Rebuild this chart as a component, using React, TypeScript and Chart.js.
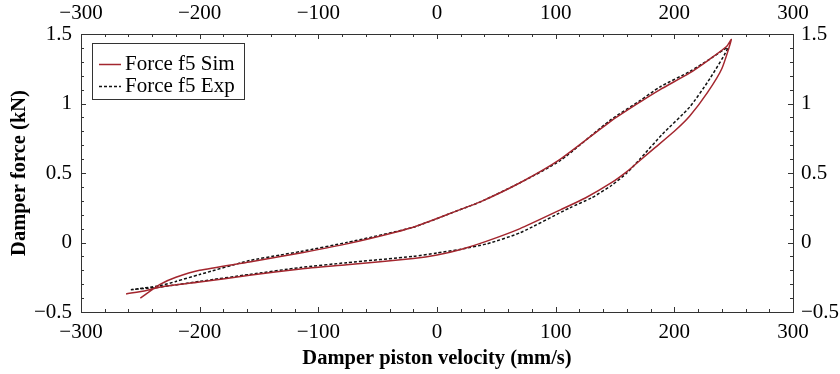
import React, { useEffect, useRef } from "react";
import { Chart, registerables } from "chart.js";

Chart.register(...registerables);

// Simulated loop: lower branch left->right, then upper branch right->left
const simX = [-262, -245, -233, -200, -158, -115, -76, -20, 0, 20, 42, 70, 104, 125, 147, 160, 171, 182, 200, 213, 228, 240, 248,
  244, 230, 213, 188, 171, 146, 104, 70, 36, 19, -20, -76, -115, -132, -158, -200, -220, -233, -250];
const simY = [-0.37, -0.345, -0.32, -0.285, -0.235, -0.19, -0.16, -0.115, -0.09, -0.05, 0.01, 0.1, 0.235, 0.32, 0.43, 0.51, 0.59, 0.67, 0.8, 0.91, 1.08, 1.25, 1.46,
  1.41, 1.32, 1.22, 1.1, 1.01, 0.87, 0.6, 0.43, 0.29, 0.235, 0.11, -0.01, -0.075, -0.1, -0.14, -0.2, -0.25, -0.3, -0.4];

// Experimental loop
const expX = [-258, -245, -233, -200, -158, -115, -76, -20, 0, 19, 42, 70, 112, 130, 147, 160, 171, 190, 213, 230, 245,
  230, 213, 188, 171, 146, 104, 70, 36, 19, -20, -76, -115, -132, -158, -200, -220, -233, -258];
const expY = [-0.34, -0.33, -0.32, -0.28, -0.23, -0.18, -0.145, -0.1, -0.075, -0.05, -0.01, 0.07, 0.25, 0.32, 0.41, 0.5, 0.6, 0.78, 0.975, 1.18, 1.4,
  1.32, 1.23, 1.12, 1.02, 0.88, 0.59, 0.43, 0.29, 0.235, 0.11, 0.0, -0.065, -0.09, -0.13, -0.23, -0.28, -0.31, -0.34];

const seriesLabels = ["Force f5 Sim", "Force f5 Exp"];
const xTicksRange = [-300, 300];
const yTicksRange = [-0.5, 1.5];

const FONT = "'Liberation Serif', 'Times New Roman', serif";
const RED = "#a3262e";
const BLACK = "#111111";

const fmt = (v: number | string) => {
  const n = Number(v);
  const s = String(Math.round(n * 100) / 100);
  return s.replace("-", "\u2212");
};

const tickPlugin = {
  id: "innerTicks",
  afterDraw(chart: any) {
    const ctx = chart.ctx;
    const a = chart.chartArea;
    ctx.save();
    ctx.strokeStyle = "#333";
    ctx.lineWidth = 1;
    const xs = chart.scales.x;
    const ys = chart.scales.y;
    for (let v = xTicksRange[0]; v <= xTicksRange[1] + 1e-6; v += 20) {
      const major = Math.abs(v % 100) < 1e-6;
      const len = major ? 5 : 3;
      const px = Math.round(xs.getPixelForValue(v)) + 0.5;
      ctx.beginPath();
      ctx.moveTo(px, a.bottom);
      ctx.lineTo(px, a.bottom - len);
      ctx.moveTo(px, a.top);
      ctx.lineTo(px, a.top + len);
      ctx.stroke();
    }
    for (let i = 0; i <= 20; i++) {
      const v = yTicksRange[0] + i * 0.1;
      const major = i % 5 === 0;
      const len = major ? 5 : 3;
      const py = Math.round(ys.getPixelForValue(v)) + 0.5;
      ctx.beginPath();
      ctx.moveTo(a.left, py);
      ctx.lineTo(a.left + len, py);
      ctx.moveTo(a.right, py);
      ctx.lineTo(a.right - len, py);
      ctx.stroke();
    }
    // legend box
    const bx = 92.5, by = 43.5, bw = 152, bh = 56;
    ctx.fillStyle = "#fff";
    ctx.fillRect(bx, by, bw, bh);
    ctx.strokeStyle = "#333";
    ctx.strokeRect(bx, by, bw, bh);
    const rows = [64, 86];
    chart.data.datasets.forEach((ds: any, i: number) => {
      const y = rows[i] + 0.5;
      ctx.beginPath();
      ctx.strokeStyle = ds.borderColor;
      ctx.lineWidth = ds.borderWidth;
      ctx.setLineDash(ds.borderDash || []);
      ctx.moveTo(99, y);
      ctx.lineTo(121, y);
      ctx.stroke();
      ctx.setLineDash([]);
      ctx.fillStyle = "#000";
      ctx.font = `21px ${FONT}`;
      ctx.textBaseline = "middle";
      ctx.textAlign = "left";
      ctx.fillText(ds.label, 125, rows[i]);
    });
    ctx.restore();
  },
};

export default function App() {
  const ref = useRef<HTMLCanvasElement>(null);
  useEffect(() => {
    document.body.style.margin = "0";
    const simData = simX.map((x, i) => ({ x, y: simY[i] }));
    const expData = expX.map((x, i) => ({ x, y: expY[i] }));
    const tickFont = { family: FONT, size: 21 };
    const titleFont = { family: FONT, size: 20.5, weight: "bold" as const };
    const border = { display: true, color: "#333", width: 1 };
    const grid = { display: false, drawTicks: false };
    const chart = new Chart(ref.current!, {
      type: "scatter",
      data: {
        datasets: [
          {
            label: seriesLabels[0],
            data: simData,
            showLine: true,
            borderColor: RED,
            backgroundColor: RED,
            borderWidth: 1.5,
            pointRadius: 0,
            tension: 0.2,
          },
          {
            label: seriesLabels[1],
            data: expData,
            showLine: true,
            borderColor: BLACK,
            backgroundColor: BLACK,
            borderWidth: 1.5,
            borderDash: [3, 2],
            pointRadius: 0,
            tension: 0.2,
          },
        ],
      },
      options: {
        animation: false,
        responsive: false,
        layout: { padding: 0 },
        plugins: { legend: { display: false }, tooltip: { enabled: false } },
        scales: {
          x: {
            type: "linear",
            position: "bottom",
            min: xTicksRange[0],
            max: xTicksRange[1],
            grid,
            border,
            ticks: { stepSize: 100, font: tickFont, color: "#000", padding: 8, callback: (v: any) => fmt(v) },
            title: { display: true, text: "Damper piston velocity (mm/s)", font: titleFont, color: "#000", padding: { top: 0, bottom: 3 } },
            afterFit: (s: any) => { s.height = 62; },
          },
          x2: {
            type: "linear",
            position: "top",
            min: xTicksRange[0],
            max: xTicksRange[1],
            grid,
            border,
            ticks: { stepSize: 100, font: tickFont, color: "#000", padding: 8, callback: (v: any) => fmt(v) },
            afterFit: (s: any) => { s.height = 34; },
          },
          y: {
            type: "linear",
            position: "left",
            min: yTicksRange[0],
            max: yTicksRange[1],
            grid,
            border,
            ticks: { stepSize: 0.5, font: tickFont, color: "#000", padding: 9, callback: (v: any) => fmt(v) },
            title: { display: true, text: "Damper force (kN)", font: titleFont, color: "#000", padding: { top: 7, bottom: 0 } },
            afterFit: (s: any) => { s.width = 81; },
          },
          y2: {
            type: "linear",
            position: "right",
            min: yTicksRange[0],
            max: yTicksRange[1],
            grid,
            border,
            ticks: { stepSize: 0.5, font: tickFont, color: "#000", padding: 8, callback: (v: any) => fmt(v) },
            afterFit: (s: any) => { s.width = 47; },
          },
        },
      },
      plugins: [tickPlugin],
    });
    return () => chart.destroy();
  }, []);
  return (
    <div style={{ width: 840, height: 374, background: "#fff" }}>
      <canvas ref={ref} width={840} height={374} />
    </div>
  );
}
